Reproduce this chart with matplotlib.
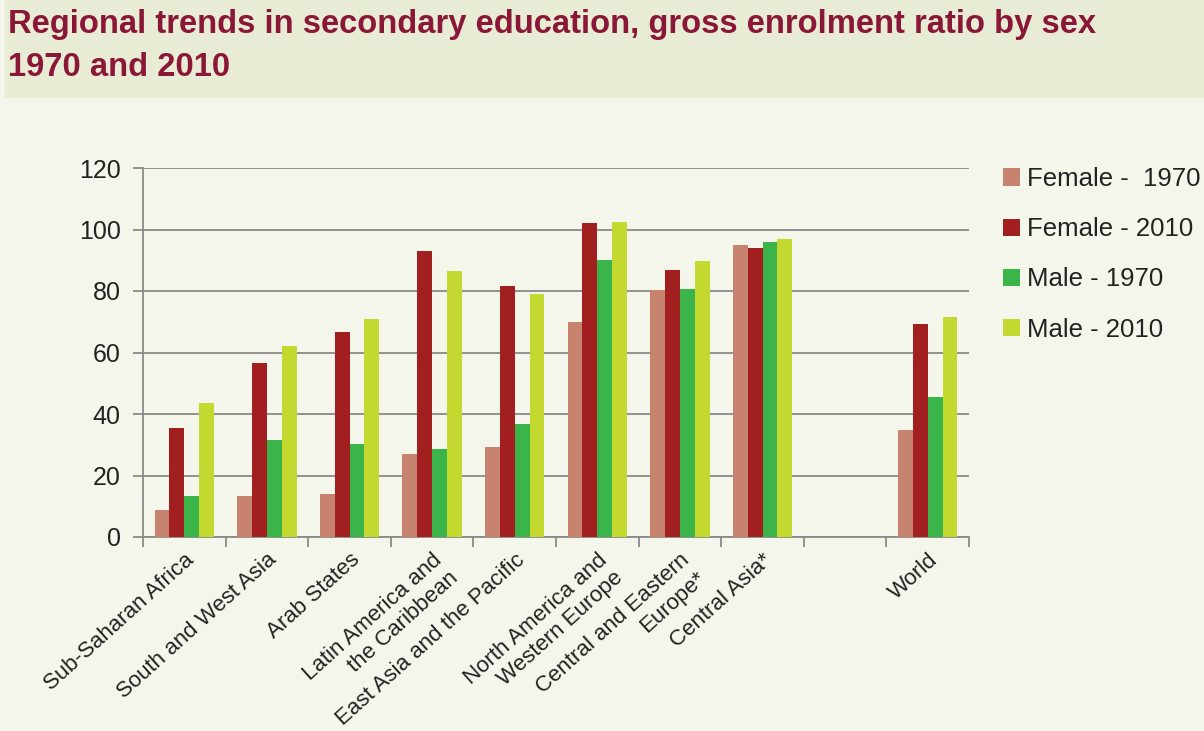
import numpy as np
import matplotlib
matplotlib.use("Agg")
import matplotlib.pyplot as plt
from matplotlib.patches import Rectangle

plt.rcParams['font.family'] = ['Liberation Sans', 'DejaVu Sans']

# data
regions = ['Sub-Saharan Africa', 'South and West Asia', 'Arab States',
           'Latin America and\nthe Caribbean', 'East Asia and the Pacific',
           'North America and\nWestern Europe', 'Central and Eastern\nEurope*',
           'Central Asia*', '', 'World']
female_1970 = [8.9, 13.4, 14.1, 27.0, 29.3, 70.0, 80.4, 94.9, np.nan, 34.9]
female_2010 = [35.4, 56.6, 66.6, 92.9, 81.5, 102.1, 86.9, 94.0, np.nan, 69.4]
male_1970 = [13.4, 31.7, 30.1, 28.7, 36.7, 90.2, 80.7, 95.8, np.nan, 45.5]
male_2010 = [43.6, 62.2, 70.9, 86.4, 79.0, 102.4, 89.9, 96.9, np.nan, 71.5]
series_names = ['Female -  1970', 'Female - 2010', 'Male - 1970', 'Male - 2010']
colors = ['#C8836F', '#A11F1F', '#3BB54A', '#C3D92F']

bg = '#F5F6EB'
fig = plt.figure(figsize=(12.04, 7.31), dpi=100, facecolor=bg)

# title band
fig.patches.append(Rectangle((5 / 1204, 1 - 97 / 731), 1, 97 / 731,
                             transform=fig.transFigure, color='#E8ECD4', zorder=0))
title_color = '#8A1738'
fig.text(8 / 1204, 1 - 33 / 731, 'Regional trends in secondary education, gross enrolment ratio by sex',
         weight='bold', fontsize=23.6, color=title_color, va='baseline')
fig.text(8 / 1204, 1 - 76 / 731, '1970 and 2010',
         weight='bold', fontsize=23.6, color=title_color, va='baseline')

ax = fig.add_axes([143 / 1204, 1 - 537 / 731, (969 - 143) / 1204, (537 - 168) / 731])
ax.set_facecolor('none')

x = np.arange(len(regions))
w = 0.18
all_series = [female_1970, female_2010, male_1970, male_2010]
for i, (vals, name, c) in enumerate(zip(all_series, series_names, colors)):
    ax.bar(x + (i - 1.5) * w, vals, width=w, color=c, label=name, zorder=3)

ax.set_xlim(-0.5, len(regions) - 0.5)
ax.set_ylim(0, 120)
ax.set_yticks(np.arange(0, 121, 20))
grid_c = '#8A8A8A'
ax.yaxis.grid(True, color=grid_c, linewidth=1.3, zorder=1)
ax.set_axisbelow(True)
for s in ['top', 'right']:
    ax.spines[s].set_visible(False)
for s in ['left', 'bottom']:
    ax.spines[s].set_color(grid_c)
    ax.spines[s].set_linewidth(1.3)

ax.set_xticks(np.arange(-0.5, len(regions), 1.0))
ax.set_xticklabels([])
ax.set_xticks(x, minor=True)
ax.set_xticklabels(regions, minor=True, rotation=42, ha='right', va='top',
                   rotation_mode='anchor', fontsize=16, color='#222222')
ax.tick_params(axis='x', which='minor', length=0, pad=9)
ax.tick_params(axis='x', which='major', length=7, width=1.3, color=grid_c, direction='out')
ax.tick_params(axis='y', length=7, width=1.3, color=grid_c, pad=9,
               labelsize=18, labelcolor='#222222')

leg = fig.legend(loc='upper left', bbox_to_anchor=(1003 / 1204, 1 - 167 / 731),
                 frameon=False, fontsize=18.5, handlelength=0.66, handleheight=0.66,
                 handletextpad=0.28, labelspacing=1.02, borderaxespad=0, borderpad=0)
for t in leg.get_texts():
    t.set_color('#222222')

fig.savefig('out.png', dpi=100, facecolor=bg)
